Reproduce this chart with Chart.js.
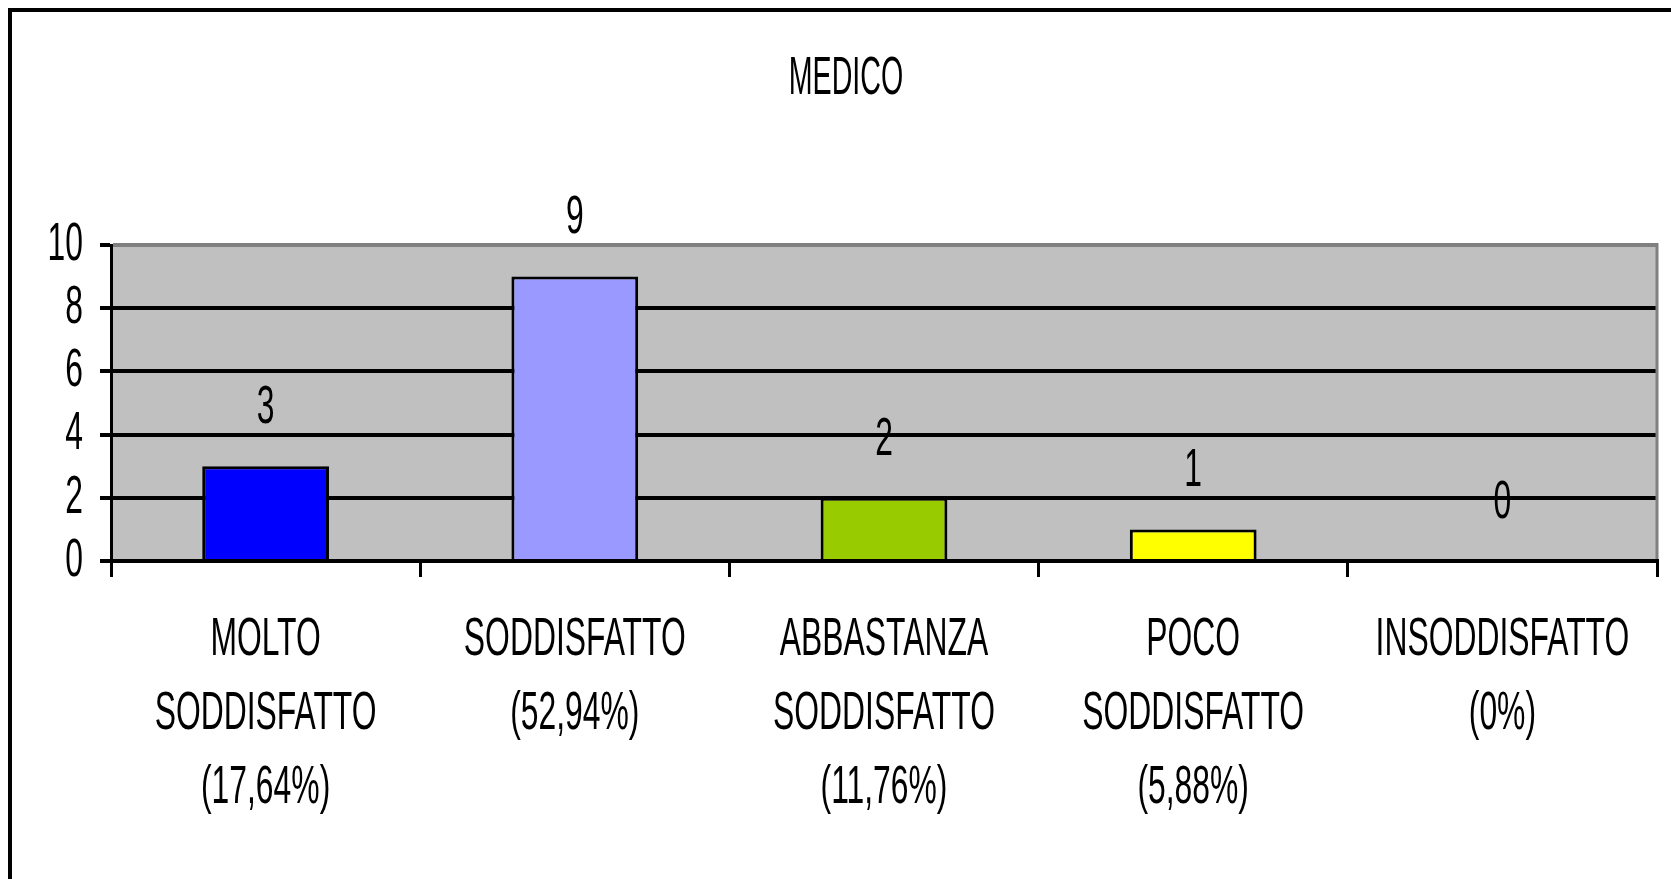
<!DOCTYPE html>
<html>
<head>
<meta charset="utf-8">
<script src="https://cdn.jsdelivr.net/npm/chart.js@4/dist/chart.umd.min.js"></script>
<style>
  html, body { margin: 0; padding: 0; background: #ffffff; }
  #wrap { width: 1671px; height: 879px; position: relative; }
</style>
</head>
<body>
<div id="wrap"><canvas id="c"></canvas></div>
<script>
// ---- data ----
const title = 'MEDICO';
const categories = [
  ['MOLTO', 'SODDISFATTO', '(17,64%)'],
  ['SODDISFATTO', '(52,94%)'],
  ['ABBASTANZA', 'SODDISFATTO', '(11,76%)'],
  ['POCO', 'SODDISFATTO', '(5,88%)'],
  ['INSODDISFATTO', '(0%)']
];
const values = [3, 9, 2, 1, 0];
const barColors = ['#0000FF', '#9999FF', '#99CC00', '#FFFF00', '#00FFFF'];
const yMin = 0, yMax = 10, yStep = 2;

const FONT = '"Liberation Sans", Arial, sans-serif';

const canvas = document.getElementById('c');
const ctx2d = canvas.getContext('2d');
// condensed text rendering (reference text is horizontally compressed)
function squeeze() { return ctx2d.font.indexOf('53px') >= 0 ? 0.54 : 0.59; }
const origFill = ctx2d.fillText.bind(ctx2d);
const origMeasure = ctx2d.measureText.bind(ctx2d);
ctx2d.fillText = function (text, x, y, maxWidth) {
  const s = squeeze();
  ctx2d.save();
  ctx2d.translate(x, y);
  ctx2d.scale(s, 1);
  if (maxWidth !== undefined && maxWidth !== null) origFill(text, 0, 0, maxWidth / s);
  else origFill(text, 0, 0);
  ctx2d.restore();
};
ctx2d.measureText = function (text) {
  const m = origMeasure(text);
  const s = squeeze();
  return {
    width: m.width * s,
    actualBoundingBoxAscent: m.actualBoundingBoxAscent,
    actualBoundingBoxDescent: m.actualBoundingBoxDescent,
    actualBoundingBoxLeft: m.actualBoundingBoxLeft * s,
    actualBoundingBoxRight: m.actualBoundingBoxRight * s,
    fontBoundingBoxAscent: m.fontBoundingBoxAscent,
    fontBoundingBoxDescent: m.fontBoundingBoxDescent
  };
};

const decor = {
  id: 'decor',
  beforeDraw(chart) {
    const { ctx, chartArea: a } = chart;
    ctx.save();
    ctx.fillStyle = '#FFFFFF';
    ctx.fillRect(0, 0, chart.width, chart.height);
    ctx.fillStyle = '#C0C0C0';
    ctx.fillRect(a.left, a.top, a.right - a.left, a.bottom - a.top);
    ctx.restore();
  },
  beforeDatasetsDraw(chart) {
    const { ctx, chartArea: a } = chart;
    ctx.save();
    ctx.strokeStyle = '#808080';
    ctx.lineWidth = 3;
    ctx.beginPath();
    ctx.moveTo(a.right, a.top - 2);
    ctx.lineTo(a.right, a.bottom - 2);
    ctx.stroke();
    ctx.restore();
  },
  afterDatasetsDraw(chart) {
    const { ctx } = chart;
    const meta = chart.getDatasetMeta(0);
    ctx.save();
    ctx.font = '54px ' + FONT;
    ctx.fillStyle = '#000000';
    ctx.textAlign = 'center';
    ctx.textBaseline = 'middle';
    meta.data.forEach((bar, i) => {
      ctx.fillText(String(values[i]), bar.x, bar.y - 58);
    });
    ctx.restore();
  },
  afterDraw(chart) {
    const { ctx } = chart;
    ctx.save();
    ctx.strokeStyle = '#000000';
    ctx.lineWidth = 4;
    ctx.strokeRect(10, 10, 1800, 1000);
    ctx.restore();
  }
};

new Chart(canvas, {
  type: 'bar',
  data: {
    labels: categories,
    datasets: [{
      data: values,
      backgroundColor: barColors,
      borderColor: '#000000',
      borderWidth: 3,
      borderSkipped: 'start',
      barPercentage: 0.41,
      categoryPercentage: 1.0
    }]
  },
  options: {
    responsive: true,
    maintainAspectRatio: false,
    animation: false,
    layout: { padding: { left: 35, right: 14, top: 0, bottom: 0 } },
    plugins: {
      legend: { display: false },
      tooltip: { enabled: false },
      title: {
        display: true,
        text: title,
        color: '#000000',
        font: { family: FONT, size: 53, weight: 'normal', lineHeight: '60px' },
        padding: { top: 49, bottom: 136 }
      }
    },
    scales: {
      x: {
        offset: true,
        grid: {
          display: true,
          offset: true,
          drawOnChartArea: false,
          drawTicks: true,
          tickLength: 16,
          color: '#000000',
          lineWidth: 3
        },
        border: { display: true, color: '#000000', width: 4 },
        ticks: {
          color: '#000000',
          font: { family: FONT, size: 54, lineHeight: '74px' },
          padding: 26,
          maxRotation: 0,
          minRotation: 0,
          autoSkip: false
        },
        afterFit(s) { s.height = 318; }
      },
      y: {
        min: yMin,
        max: yMax,
        grid: {
          color: (c) => (c.tick && c.tick.value === yMax ? '#808080' : '#000000'),
          tickColor: '#000000',
          lineWidth: 4,
          drawTicks: true,
          tickLength: 11
        },
        border: { display: true, color: '#000000', width: 3 },
        ticks: {
          stepSize: yStep,
          autoSkip: false,
          color: '#000000',
          font: { family: FONT, size: 54, lineHeight: '40px' },
          padding: 17
        },
        afterFit(s) { s.width = 76; }
      }
    }
  },
  plugins: [decor]
});
</script>
</body>
</html>
